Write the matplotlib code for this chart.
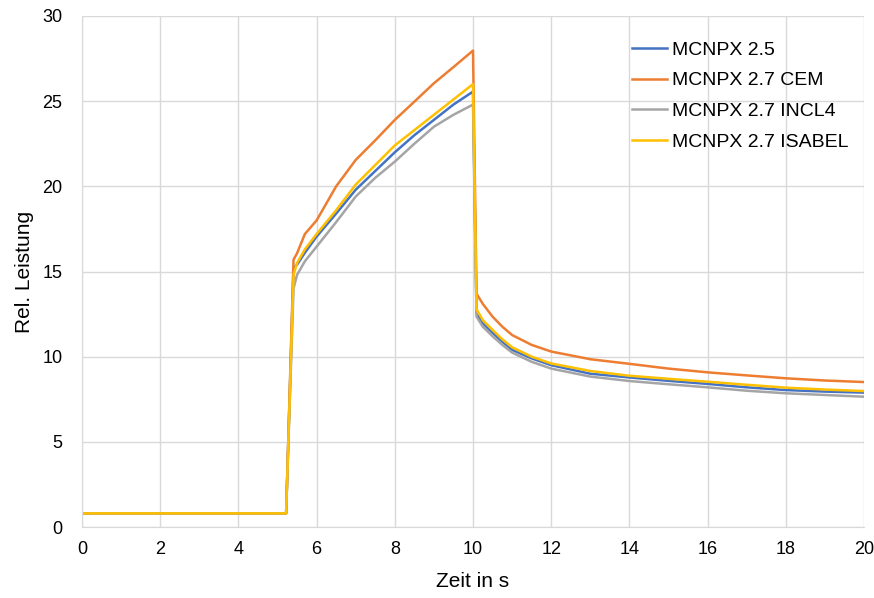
import matplotlib.pyplot as plt

plt.rcParams['font.family'] = ['Liberation Sans Narrow', 'Liberation Sans', 'DejaVu Sans']

# Zeitpunkte in s
t = [0, 5.22, 5.41, 5.5, 5.7, 6.0, 6.5, 7.0, 7.5, 8.0, 8.5, 9.0, 9.5, 10.0,
     10.09, 10.25, 10.5, 10.75, 11.0, 11.5, 12.0, 13.0, 14.0, 15.0, 16.0, 17.0, 18.0, 19.0, 20.0]

mcnpx_25 = [0.8, 0.8, 15.2, 15.4, 16.1, 17.05, 18.4, 19.8, 20.9, 22.0, 23.0, 23.9, 24.8, 25.56,
            12.55, 11.96, 11.4, 10.88, 10.4, 9.9, 9.5, 9.0, 8.78, 8.58, 8.4, 8.2, 8.04, 7.95, 7.89]
mcnpx_27_cem = [0.8, 0.8, 15.7, 16.07, 17.2, 18.0, 20.0, 21.55, 22.7, 23.9, 24.97, 26.05, 27.0, 27.97,
                13.7, 13.1, 12.35, 11.76, 11.27, 10.69, 10.3, 9.85, 9.58, 9.3, 9.08, 8.9, 8.73, 8.6, 8.51]
mcnpx_27_incl4 = [0.8, 0.8, 14.0, 14.8, 15.6, 16.46, 17.9, 19.4, 20.5, 21.45, 22.5, 23.5, 24.2, 24.8,
                  12.35, 11.76, 11.2, 10.69, 10.24, 9.7, 9.3, 8.83, 8.57, 8.38, 8.2, 8.0, 7.85, 7.75, 7.65]
mcnpx_27_isabel = [0.8, 0.8, 14.8, 15.5, 16.3, 17.2, 18.6, 20.1, 21.25, 22.4, 23.3, 24.2, 25.1, 26.0,
                   12.78, 12.15, 11.57, 11.02, 10.55, 10.0, 9.6, 9.16, 8.88, 8.7, 8.53, 8.35, 8.18, 8.07, 7.98]

series = [
    ("MCNPX 2.5", mcnpx_25, "#4472c4"),
    ("MCNPX 2.7 CEM", mcnpx_27_cem, "#ed7d31"),
    ("MCNPX 2.7 INCL4", mcnpx_27_incl4, "#a5a5a5"),
    ("MCNPX 2.7 ISABEL", mcnpx_27_isabel, "#ffc000"),
]

fig = plt.figure(figsize=(8.74, 5.98), dpi=100)
ax = fig.add_axes([82 / 874, 1 - 527 / 598, 782 / 874, 511 / 598])

for name, vals, col in series:
    ax.plot(t, vals, color=col, lw=1.8, label=name)

ax.set_xlim(0, 20)
ax.set_ylim(0, 30)
ax.set_xticks(range(0, 21, 2))
ax.set_yticks(range(0, 31, 5))
ax.grid(True, color="#d9d9d9", lw=1)
ax.set_axisbelow(True)
for s in ["top", "right"]:
    ax.spines[s].set_visible(False)
for s in ["left", "bottom"]:
    ax.spines[s].set_color("#d9d9d9")
ax.tick_params(length=0, labelsize=13, colors="#000000", pad=10)
ax.tick_params(axis="y", pad=14)

ax.set_xlabel("Zeit in s", fontsize=15, labelpad=10)
ax.set_ylabel("Rel. Leistung", fontsize=15, labelpad=6)

ax.legend(loc="upper left", bbox_to_anchor=(0.694, 0.966), borderaxespad=0, frameon=False,
          fontsize=14, handlelength=1.8, handletextpad=0.25, labelspacing=0.67)

fig.savefig("out.png", dpi=100)
